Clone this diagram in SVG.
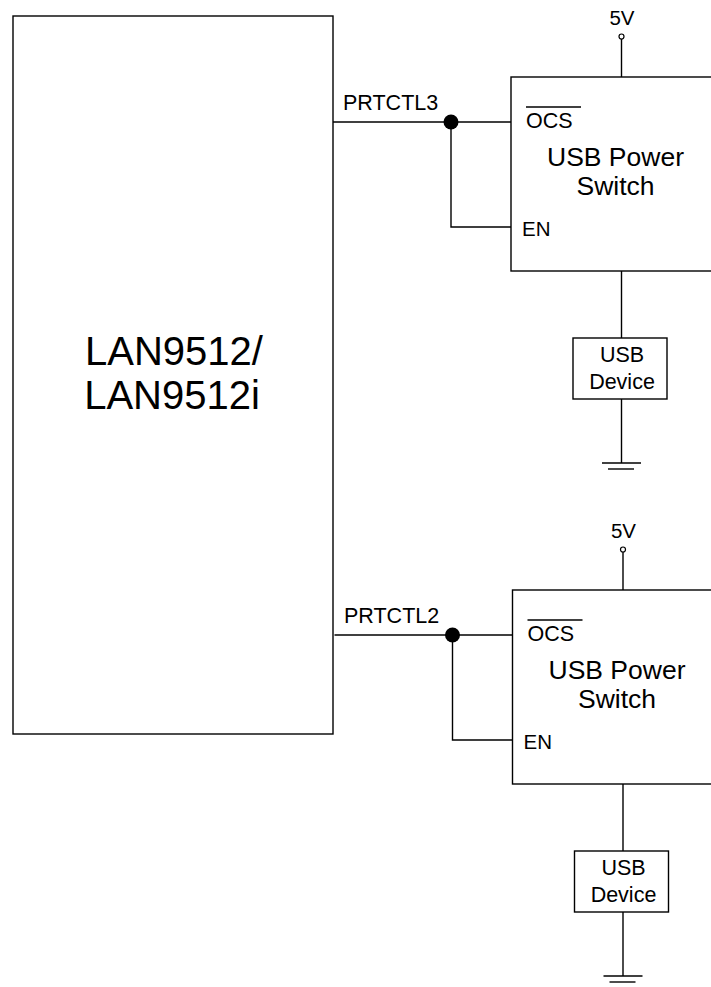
<svg xmlns="http://www.w3.org/2000/svg" width="711" height="987" viewBox="0 0 711 987">
<style>
.ln{fill:none;stroke:#000;stroke-width:1.4}
.bx{fill:#fff;stroke:#000;stroke-width:1.4}
.t{font-family:"Liberation Sans",Arial,sans-serif;fill:#000}
.s{font-size:20.5px}
.p{font-size:21.5px}
.m{font-size:26.5px}
.d{font-size:21.5px}
.c{text-anchor:middle}
</style>
<defs>
<g id="chan">
<line class="ln" x1="333" y1="122" x2="511" y2="122"/>
<polyline class="ln" points="451,122 451,227 511,227"/>
<line class="ln" x1="621.5" y1="39" x2="621.5" y2="77"/>
<line class="ln" x1="621.5" y1="271" x2="621.5" y2="338"/>
<line class="ln" x1="621.5" y1="399" x2="621.5" y2="463"/>
</g>
</defs>
<g id="connectors">
<use href="#chan"/>
<use href="#chan" transform="translate(1.5,513)"/>
</g>
<g id="lan9512">
<rect class="bx" x="13" y="16" width="320" height="718"/>
<text class="t c" x="174" y="365" font-size="40">LAN9512/</text>
<text class="t c" x="172" y="409" font-size="40">LAN9512i</text>
</g>
<g id="net1">
<text class="t p" x="343" y="110">PRTCTL3</text>
<circle cx="451" cy="122" r="7.5" fill="#000"/>
</g>
<g id="switch1">
<rect class="bx" x="511" y="77" width="215" height="194"/>
<text class="t p" x="526" y="128">OCS</text>
<line class="ln" x1="526" y1="107" x2="581" y2="107"/>
<text class="t m c" x="615.5" y="166">USB Power</text>
<text class="t m c" x="615.5" y="195">Switch</text>
<text class="t s" x="522" y="236">EN</text>
</g>
<g id="vcc1">
<circle cx="621.5" cy="36.5" r="2.5" fill="#fff" stroke="#000" stroke-width="1.2"/>
<text class="t s c" x="622" y="25">5V</text>
</g>
<g id="device1">
<rect class="bx" x="573" y="338" width="94" height="61"/>
<text class="t d c" x="622" y="362">USB</text>
<text class="t d c" x="622" y="389">Device</text>
</g>
<g id="gnd1">
<line class="ln" x1="602" y1="463" x2="641" y2="463"/>
<line class="ln" x1="608" y1="469" x2="634" y2="469"/>
</g>
<g id="net2">
<text class="t p" x="344" y="623">PRTCTL2</text>
<circle cx="452.5" cy="635" r="7.5" fill="#000"/>
</g>
<g id="switch2">
<rect class="bx" x="512.5" y="590" width="215" height="194"/>
<text class="t p" x="527.5" y="641">OCS</text>
<line class="ln" x1="527.5" y1="620" x2="582.5" y2="620"/>
<text class="t m c" x="617" y="679">USB Power</text>
<text class="t m c" x="617" y="708">Switch</text>
<text class="t s" x="523.5" y="749">EN</text>
</g>
<g id="vcc2">
<circle cx="623" cy="549.5" r="2.5" fill="#fff" stroke="#000" stroke-width="1.2"/>
<text class="t s c" x="623.5" y="538">5V</text>
</g>
<g id="device2">
<rect class="bx" x="574.5" y="851" width="94" height="61"/>
<text class="t d c" x="623.5" y="875">USB</text>
<text class="t d c" x="623.5" y="902">Device</text>
</g>
<g id="gnd2">
<line class="ln" x1="603.5" y1="976" x2="642.5" y2="976"/>
<line class="ln" x1="609.5" y1="982" x2="635.5" y2="982"/>
</g>
</svg>
